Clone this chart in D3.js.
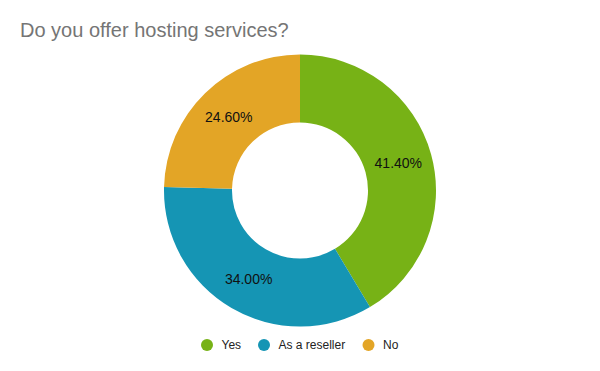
<!DOCTYPE html>
<html><head><meta charset="utf-8">
<script src="https://cdn.jsdelivr.net/npm/d3@7"></script>
<style>body{margin:0;background:#fff}svg{display:block}</style>
</head><body>
<svg id="c" width="600" height="371"></svg>
<script>
const title = "Do you offer hosting services?";
const categories = ["Yes", "As a reseller", "No"];
const values = [41.4, 34.0, 24.6];
const colors = ["#77b216", "#1595b4", "#e3a526"];

const svg = d3.select("#c");
const font = "'Liberation Sans', Arial, sans-serif";
svg.append("rect").attr("width",600).attr("height",371).attr("fill","#fff");

svg.append("text").attr("x",20).attr("y",36.5).attr("font-family",font)
  .attr("font-size",20).attr("fill","#757575").text(title);

const cx = 300, cy = 190.5, R = 136, r = 68;
const data = categories.map((c,i)=>({cat:c, value:values[i], color:colors[i]}));
const pie = d3.pie().value(d=>d.value).sort(null);
const arc = d3.arc().innerRadius(r).outerRadius(R);
const g = svg.append("g").attr("transform",`translate(${cx},${cy})`);
const arcs = pie(data);
g.selectAll("path").data(arcs).join("path").attr("d",arc).attr("fill",d=>d.data.color);
g.selectAll("text").data(arcs).join("text")
  .attr("transform",d=>`translate(${arc.centroid(d)})`)
  .attr("text-anchor","middle").attr("dy","0.35em")
  .attr("font-family",font).attr("font-size",14).attr("fill","#111")
  .text(d=>d.data.value.toFixed(2)+"%");

// legend
const legendX = [207, 264, 368.5];
const lg = svg.append("g");
data.forEach((d,i)=>{
  lg.append("circle").attr("cx",legendX[i]).attr("cy",345).attr("r",6).attr("fill",d.color);
  lg.append("text").attr("x",legendX[i]+14.5).attr("y",349.3).attr("font-family",font)
    .attr("font-size",12).attr("fill","#222").text(d.cat);
});
</script>
</body></html>
